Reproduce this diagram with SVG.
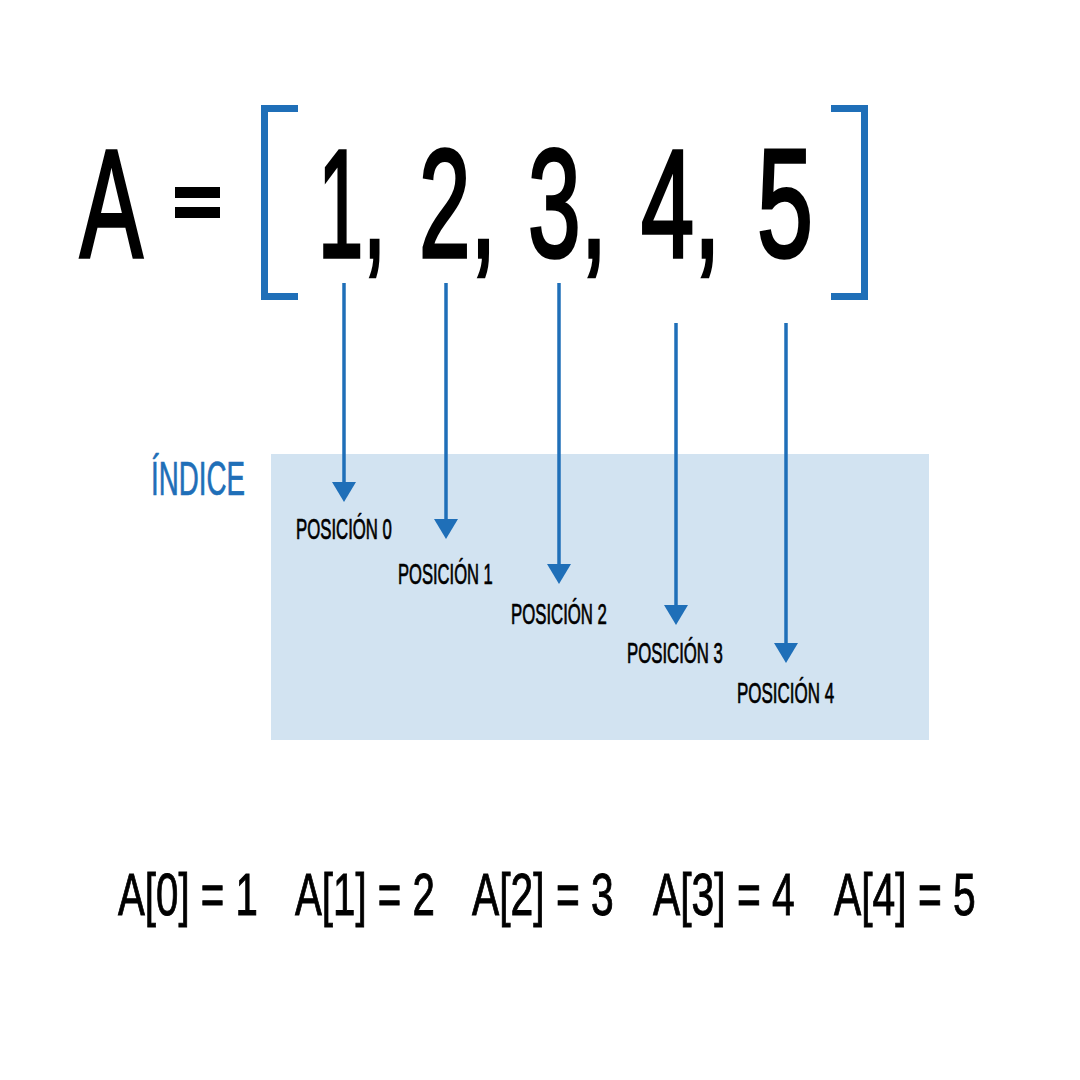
<svg xmlns="http://www.w3.org/2000/svg" width="1080" height="1080" viewBox="0 0 1080 1080">
<style>
.t{font-family:"Liberation Sans","DejaVu Sans",sans-serif;fill:#000}
.big{font-size:154px;stroke:#000;stroke-width:3;vector-effect:non-scaling-stroke}
.lbl{font-size:29px;stroke:#000;stroke-width:0.6;vector-effect:non-scaling-stroke}
.eq{font-size:60px;stroke:#000;stroke-width:0.8;vector-effect:non-scaling-stroke}
.blue{fill:#1f6fb8;stroke:#1f6fb8;stroke-width:0.6;vector-effect:non-scaling-stroke}
.br{fill:none;stroke:#1f6fb8;stroke-width:7}
.ar{stroke:#1f6fb8;stroke-width:3.5;fill:none}
.hd{fill:#1f6fb8}
</style>
<rect width="1080" height="1080" fill="#fff"/>
<g id="indice-box"><rect x="271" y="454" width="658" height="286" fill="#d2e3f1"/></g>
<g id="title">
<text class="t big" transform="translate(80,257) scale(0.56,1)" textLength="112" lengthAdjust="spacingAndGlyphs">A</text>
<rect x="175" y="187" width="45" height="11" fill="#000"/>
<rect x="175" y="207" width="45" height="11" fill="#000"/>
<text class="t big" transform="translate(318,257) scale(0.56,1)" textLength="121" lengthAdjust="spacingAndGlyphs">1,</text>
<text class="t big" transform="translate(419,257) scale(0.56,1)" textLength="138" lengthAdjust="spacingAndGlyphs">2,</text>
<text class="t big" transform="translate(528,257) scale(0.56,1)" textLength="141" lengthAdjust="spacingAndGlyphs">3,</text>
<text class="t big" transform="translate(641,257) scale(0.56,1)" textLength="142" lengthAdjust="spacingAndGlyphs">4,</text>
<text class="t big" transform="translate(757,257) scale(0.56,1)" textLength="100" lengthAdjust="spacingAndGlyphs">5</text>
</g>
<g id="brackets">
<path class="br" d="M298,108.5 H264.5 V296.5 H298"/>
<path class="br" d="M831,108.5 H864.5 V296.5 H831"/>
</g>
<g id="connectors">
<line class="ar" x1="344" y1="283" x2="344" y2="490"/>
<path class="hd" d="M332,482 L356,482 L344,502 Z"/>
<line class="ar" x1="446" y1="283" x2="446" y2="527"/>
<path class="hd" d="M434,519 L458,519 L446,539 Z"/>
<line class="ar" x1="559" y1="283" x2="559" y2="572"/>
<path class="hd" d="M547,564 L571,564 L559,584 Z"/>
<line class="ar" x1="676" y1="323" x2="676" y2="613"/>
<path class="hd" d="M664,605 L688,605 L676,625 Z"/>
<line class="ar" x1="786" y1="323" x2="786" y2="651"/>
<path class="hd" d="M774,643 L798,643 L786,663 Z"/>
</g>
<g id="indice-label"><text class="t blue" style="font-size:49px" transform="translate(151,495) scale(0.566,1)" textLength="166" lengthAdjust="spacingAndGlyphs">ÍNDICE</text></g>
<g id="pos0"><text class="t lbl" transform="translate(296,539) scale(0.578,1)" textLength="166" lengthAdjust="spacingAndGlyphs">POSICIÓN 0</text></g>
<g id="pos1"><text class="t lbl" transform="translate(398,584) scale(0.578,1)" textLength="164" lengthAdjust="spacingAndGlyphs">POSICIÓN 1</text></g>
<g id="pos2"><text class="t lbl" transform="translate(511,624) scale(0.578,1)" textLength="166" lengthAdjust="spacingAndGlyphs">POSICIÓN 2</text></g>
<g id="pos3"><text class="t lbl" transform="translate(627,663) scale(0.578,1)" textLength="166" lengthAdjust="spacingAndGlyphs">POSICIÓN 3</text></g>
<g id="pos4"><text class="t lbl" transform="translate(737,703) scale(0.578,1)" textLength="168" lengthAdjust="spacingAndGlyphs">POSICIÓN 4</text></g>
<g id="equalities">
<text class="t eq" transform="translate(118,915) scale(0.672,1)" textLength="208" lengthAdjust="spacingAndGlyphs">A[0] = 1</text>
<text class="t eq" transform="translate(295,915) scale(0.672,1)" textLength="208" lengthAdjust="spacingAndGlyphs">A[1] = 2</text>
<text class="t eq" transform="translate(472,915) scale(0.672,1)" textLength="211" lengthAdjust="spacingAndGlyphs">A[2] = 3</text>
<text class="t eq" transform="translate(653,915) scale(0.672,1)" textLength="211" lengthAdjust="spacingAndGlyphs">A[3] = 4</text>
<text class="t eq" transform="translate(834,915) scale(0.672,1)" textLength="211" lengthAdjust="spacingAndGlyphs">A[4] = 5</text>
</g>
</svg>
